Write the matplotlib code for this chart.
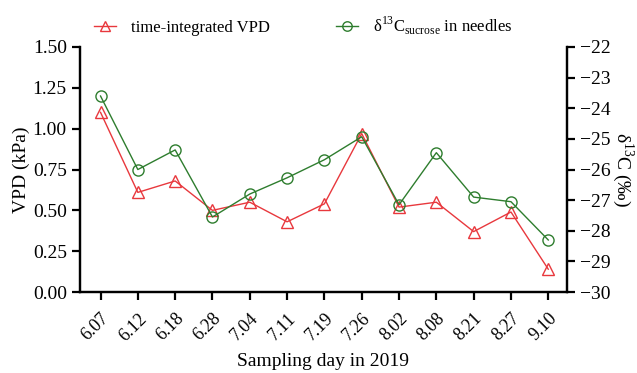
import matplotlib.pyplot as plt
import matplotlib as mpl

mpl.rcParams['font.family'] = 'Liberation Serif'
mpl.rcParams['mathtext.fontset'] = 'custom'
mpl.rcParams['mathtext.rm'] = 'Liberation Serif'
mpl.rcParams['axes.linewidth'] = 1.6

days = ['6.07', '6.12', '6.18', '6.28', '7.04', '7.11', '7.19', '7.26',
        '8.02', '8.08', '8.21', '8.27', '9.10']
vpd = [1.10, 0.61, 0.68, 0.50, 0.55, 0.43, 0.54, 0.97, 0.52, 0.55, 0.37, 0.49, 0.14]
d13c = [-23.6, -26.0, -25.36, -27.55, -26.8, -26.27, -25.68, -24.93,
        -27.15, -25.45, -26.9, -27.05, -28.3]

x = list(range(len(days)))

fig = plt.figure(figsize=(6.37, 3.73), dpi=100)
ax = fig.add_axes([0.1256, 0.217, 0.7644, 0.657])
ax2 = ax.twinx()

l1, = ax.plot(x, vpd, color='#e8383d', marker='^', markersize=8, markerfacecolor='none',
              markeredgewidth=1.0, linewidth=1.0, label='time-integrated VPD')
l2, = ax2.plot(x, d13c, color='#2e7d2e', marker='o', markersize=8, markerfacecolor='none',
               markeredgewidth=1.0, linewidth=1.0,
               label='δ$^{13}$C$_{\\mathrm{sucrose}}$ in needles')

ax.set_xlim(-0.55, 12.5)
ax.set_ylim(0, 1.5)
ax.set_yticks([0, 0.25, 0.5, 0.75, 1.0, 1.25, 1.5])
ax.set_yticklabels(['0.00', '0.25', '0.50', '0.75', '1.00', '1.25', '1.50'])
ax2.set_ylim(-30, -22)
ax2.set_yticks(range(-30, -21))

ax.set_xticks(x)
ax.set_xticklabels(days, rotation=45, ha='right', rotation_mode='anchor')

for a in (ax, ax2):
    a.spines['top'].set_visible(False)
    a.tick_params(axis='both', direction='out', length=6, width=1.6, labelsize=14)
ax.tick_params(axis='x', pad=7, labelsize=13)

ax.set_ylabel('VPD (kPa)', fontsize=14, labelpad=2)
ax.set_xlabel('Sampling day in 2019', fontsize=14, labelpad=6)
ax2.set_ylabel('δ$^{13}$C (‰)', fontsize=14, rotation=270, labelpad=18)

fig.legend(handles=[l1, l2], loc='upper center', bbox_to_anchor=(0.476, 1.0), ncol=2,
           frameon=False, fontsize=12, columnspacing=4.0, handlelength=1.3,
           handletextpad=0.9, markerscale=0.85)

plt.savefig('out.png', dpi=100)
